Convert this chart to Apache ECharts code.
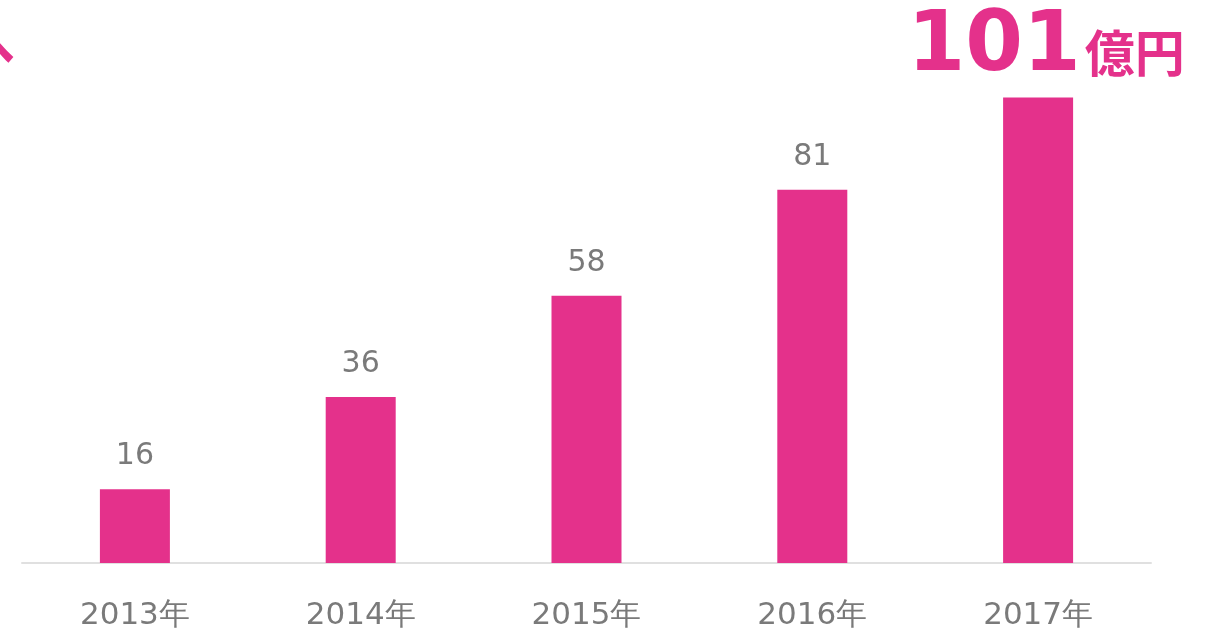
<!DOCTYPE html>
<html><head><meta charset="utf-8">
<script src="https://cdn.jsdelivr.net/npm/echarts@6/dist/echarts.min.js"></script>
<style>html,body{margin:0;padding:0;background:#fff}#c{width:1206px;height:632px}</style>
</head><body><div id="c"></div>
<script>
const categories = ['2013年','2014年','2015年','2016年','2017年'];
const values = [16, 36, 58, 81, 101];
const unit = '億円';
const pink = '#E4318B';
const chart = echarts.init(document.getElementById('c'));
chart.setOption({
  animation: false,
  grid: {left: 22, right: 55, top: 10, bottom: 69, containLabel: false},
  xAxis: {
    type: 'category', data: categories,
    axisLine: {lineStyle: {color: '#e0e0e0', width: 2}},
    axisTick: {show: false},
    axisLabel: {color: '#7a7a7a', fontSize: 31, fontFamily: 'DejaVu Sans', margin: 37}
  },
  yAxis: {type: 'value', min: 0, max: 120, show: false, splitLine: {show: false}},
  series: [{
    type: 'bar', barWidth: 70,
    itemStyle: {color: pink},
    data: values.map((v, i) => i === values.length - 1 ? {
      value: v,
      label: {
        formatter: '{a|' + v + '}{b|' + unit + '}',
        distance: 8,
        offset: [8, 0],
        rich: {
          a: {fontSize: 83, fontWeight: 'bold', color: pink, fontFamily: 'DejaVu Sans', verticalAlign: 'bottom'},
          b: {fontSize: 50, fontWeight: 'bold', color: pink, fontFamily: 'Noto Sans CJK JP', verticalAlign: 'bottom', padding: [0,0,12,4]}
        }
      }
    } : v),
    label: {show: true, position: 'top', distance: 18, color: '#7a7a7a', fontSize: 30, fontFamily: 'DejaVu Sans'}
  }],
  graphic: [{
    type: 'text', left: -33, top: 21,
    style: {text: 'へ', fill: pink, fontSize: 48, fontWeight: 'bold', fontFamily: 'Noto Sans CJK JP'}
  }]
});
</script></body></html>
